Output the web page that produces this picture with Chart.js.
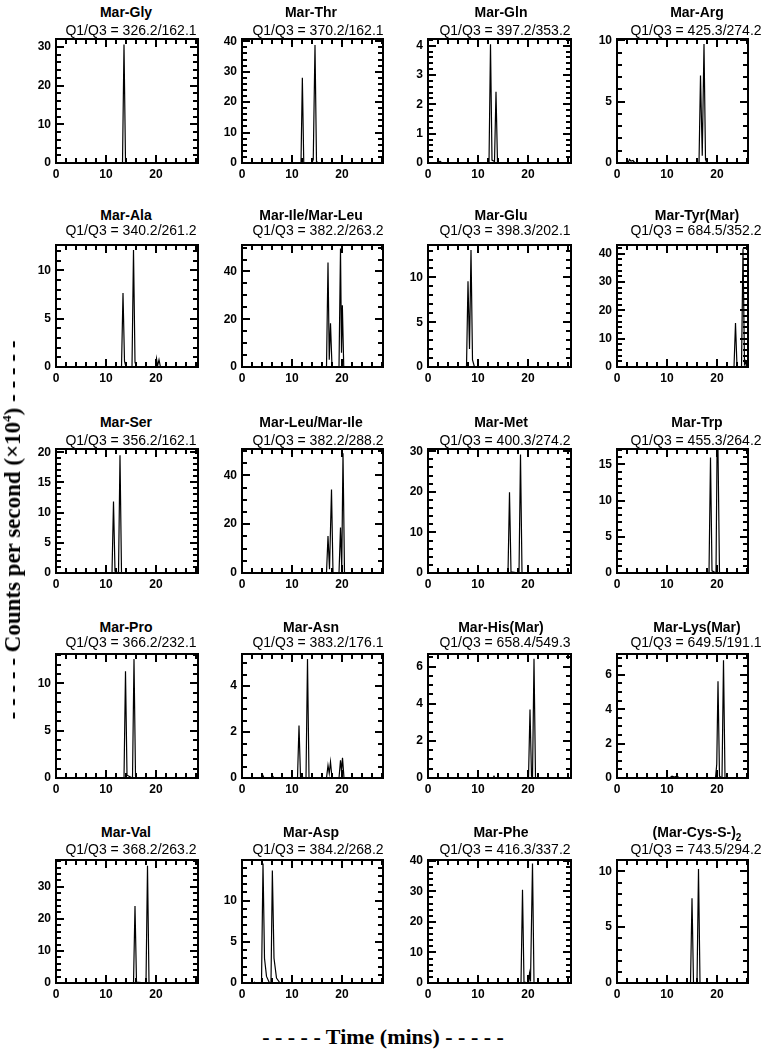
<!DOCTYPE html>
<html><head><meta charset="utf-8">
<script src="https://cdn.jsdelivr.net/npm/chart.js@4.4.0/dist/chart.umd.min.js"></script>
<style>
html,body{margin:0;padding:0;background:#fff;}
body{width:762px;height:1050px;position:relative;overflow:hidden;font-family:"Liberation Sans",Arial,sans-serif;}
.ttl{position:absolute;transform:translate(-50%,-50%);white-space:nowrap;font-weight:bold;font-size:14px;color:#000;line-height:16px;}
.ttl sub{font-size:10px;line-height:0;}
.sub{position:absolute;transform:translate(-50%,-50%);white-space:nowrap;font-size:14px;color:#000;line-height:16px;}
canvas{position:absolute;}
.axt{position:absolute;font-family:"Liberation Serif","Times New Roman",serif;font-weight:bold;font-size:23px;white-space:nowrap;color:#000;line-height:24px;}
.axt sup{font-size:13px;line-height:0;}
</style></head><body>
<script>
// ---- panel labels ----
const panelNames = ['Mar-Gly','Mar-Thr','Mar-Gln','Mar-Arg','Mar-Ala','Mar-Ile/Mar-Leu','Mar-Glu','Mar-Tyr(Mar)','Mar-Ser','Mar-Leu/Mar-Ile','Mar-Met','Mar-Trp','Mar-Pro','Mar-Asn','Mar-His(Mar)','Mar-Lys(Mar)','Mar-Val','Mar-Asp','Mar-Phe','(Mar-Cys-S-)'];
const panelNameSub = ['','','','','','','','','','','','','','','','','','','','2'];
const q1q3 = ['326.2/162.1','370.2/162.1','397.2/353.2','425.3/274.2','340.2/261.2','382.2/263.2','398.3/202.1','684.5/352.2','356.2/162.1','382.2/288.2','400.3/274.2','455.3/264.2','366.2/232.1','383.2/176.1','658.4/549.3','649.5/191.1','368.2/263.2','384.2/268.2','416.3/337.2','743.5/294.2'];

// ---- y axis ranges / ticks ----
const yMax   = [32, 40.7, 4.22, 10.1, 12.6, 51, 13.6, 43, 20.5, 50.7, 30.5, 17.1, 13.1, 5.39, 6.67, 7.2, 38.3, 14.9, 40.2, 11.0];
const yMajor = [10, 10, 1, 5, 5, 20, 5, 10, 5, 20, 10, 5, 5, 2, 2, 2, 10, 5, 10, 5];
const yMinor = [2, 2, 0.2, 1, 1, 5, 1, 2, 1, 5, 2, 1, 1, 0.5, 0.5, 0.5, 2, 1, 2, 1];
const X_MAJOR = 10, X_MINOR = 2;

// ---- chromatogram series: time (mins) and counts per second (x10^4) ----
const glyTime = [0, 13.3, 13.6, 13.9, 14.3, 28.6];
const glyCps  = [0, 0, 30.6, 0.4, 0, 0];
const thrTime = [0, 11.8, 12.07, 12.35, 14.0, 14.25, 14.6, 14.9, 15.2, 28.6];
const thrCps  = [0, 0, 28.0, 0.2, 0, 1.2, 38.8, 0.5, 0, 0];
const glnTime = [0, 2.0, 2.4, 2.8, 12.2, 12.5, 12.8, 13.3, 13.6, 13.9, 28.6];
const glnCps  = [0, 0, 0.06, 0, 0, 4.05, 0.1, 0.05, 2.43, 0, 0];
const argTime = [0, 2.2, 2.5, 2.8, 3.2, 3.6, 16.4, 16.7, 17.05, 17.4, 17.7, 18.0, 28.6];
const argCps  = [0, 0, 0.3, 0.15, 0.2, 0, 0, 7.13, 0.6, 9.7, 0.3, 0, 0];

const alaTime = [0, 13.1, 13.4, 13.7, 14.0, 15.2, 15.5, 15.8, 16.1, 19.9, 20.1, 20.3, 20.6, 20.9, 28.6];
const alaCps  = [0, 0, 7.65, 0.6, 0, 0, 12.1, 0.5, 0, 0, 0.85, 0.1, 0.75, 0, 0];
const ileLeuTime = [0, 16.9, 17.2, 17.45, 17.7, 18.0, 19.4, 19.7, 19.9, 20.07, 20.35, 28.6];
const ileLeuCps  = [0, 0, 43.8, 3, 18.3, 0, 0, 49.6, 6, 25.9, 0, 0];
const gluTime = [0, 7.7, 8.0, 8.3, 8.6, 8.9, 9.3, 28.6];
const gluCps  = [0, 0, 9.56, 2, 13.07, 0.8, 0, 0];
const tyrTime = [0, 23.4, 23.7, 24.0, 24.9, 25.2, 25.5, 25.7, 25.9, 28.6];
const tyrCps  = [0, 0, 15.5, 0, 0, 41.8, 1, 2, 0, 0];

const serTime = [0, 1.9, 2.1, 2.3, 11.2, 11.5, 11.8, 12.5, 12.8, 13.1, 28.6];
const serCps  = [0, 0, 0.15, 0, 0, 11.85, 0.3, 0, 19.5, 0, 0];
const leuIleTime = [0, 16.9, 17.2, 17.5, 17.9, 18.2, 19.4, 19.7, 19.95, 20.2, 20.5, 28.6];
const leuIleCps  = [0, 0, 15.1, 1.5, 34.2, 0, 0, 18.6, 2, 49, 0, 0];
const metTime = [0, 16.0, 16.3, 16.6, 18.2, 18.5, 18.8, 28.6];
const metCps  = [0, 0, 19.9, 0.3, 0, 29.2, 0, 0];
const trpTime = [0, 18.4, 18.7, 19.0, 19.8, 20.0, 20.2, 20.5, 28.6];
const trpCps  = [0, 0, 15.95, 0.3, 0, 16.3, 16.95, 0, 0];

const proTime = [0, 13.6, 13.9, 14.2, 15.3, 15.6, 15.9, 16.2, 28.6];
const proCps  = [0, 0, 11.3, 0.3, 0, 12.6, 0.2, 0, 0];
const asnTime = [0, 4.0, 4.2, 4.4, 6.0, 6.2, 6.4, 11.1, 11.4, 11.7, 12.8, 13.1, 13.4, 16.9, 17.2, 17.45, 17.7, 18.0, 19.4, 19.7, 19.9, 20.1, 20.4, 28.6];
const asnCps  = [0, 0, 0.1, 0, 0, 0.06, 0, 0, 2.28, 0.05, 0, 5.18, 0, 0, 0.55, 0.2, 0.7, 0, 0, 0.77, 0.3, 0.88, 0, 0];
const hisTime = [0, 13.0, 13.2, 13.4, 20.1, 20.4, 20.7, 20.9, 21.2, 21.5, 28.6];
const hisCps  = [0, 0, 0.1, 0, 0, 3.69, 0.1, 0, 6.42, 0, 0];
const lysTime = [0, 10.5, 11.0, 11.5, 12.0, 12.5, 19.7, 19.95, 20.2, 20.5, 21.0, 21.3, 21.6, 28.6];
const lysCps  = [0, 0, 0.1, 0.05, 0.1, 0, 0, 0.8, 5.63, 0.1, 0, 6.85, 0, 0];

const valTime = [0, 15.5, 15.8, 16.1, 18.0, 18.3, 18.6, 28.6];
const valCps  = [0, 0, 24.0, 0.3, 0, 36.6, 0, 0];
const aspTime = [0, 2.3, 2.5, 2.7, 3.9, 4.2, 4.5, 4.9, 5.5, 5.8, 6.07, 6.4, 6.9, 7.6, 28.6];
const aspCps  = [0, 0, 0.1, 0, 0, 14.5, 3.0, 0.8, 0, 0, 13.66, 3.0, 0.6, 0, 0];
const pheTime = [0, 18.6, 18.9, 19.2, 20.1, 20.3, 20.5, 20.9, 21.2, 28.6];
const pheCps  = [0, 0, 30.5, 0.3, 0, 3.1, 0.5, 39.1, 0, 0];
const cysTime = [0, 14.7, 15.0, 15.3, 16.0, 16.3, 16.6, 28.6];
const cysCps  = [0, 0, 7.6, 0, 0, 10.2, 0, 0];

const seriesTime = [glyTime, thrTime, glnTime, argTime, alaTime, ileLeuTime, gluTime, tyrTime, serTime, leuIleTime, metTime, trpTime, proTime, asnTime, hisTime, lysTime, valTime, aspTime, pheTime, cysTime];
const seriesCps  = [glyCps, thrCps, glnCps, argCps, alaCps, ileLeuCps, gluCps, tyrCps, serCps, leuIleCps, metCps, trpCps, proCps, asnCps, hisCps, lysCps, valCps, aspCps, pheCps, cysCps];

// ---- layout (pixels) ----
const colLeft  = [56, 242, 428, 617];
const colWidth = [142, 141, 143, 131];
const rowTop    = [39, 245, 449, 654, 860];
const rowHeight = [124, 122, 124, 124, 123];
const titleX = [126, 311, 501, 697];
const subX   = [131, 318, 505, 696];
const titleY = [12, 215, 422, 626.5, 831.5];
const subY   = [29.5, 229.5, 439.5, 641.5, 849];
const PX_PER_MIN = 5;

function tickList(maxV, step, major) {
  const out = [];
  const n = Math.floor(maxV / step + 1e-6);
  for (let i = 1; i <= n; i++) {
    const v = i * step;
    const r = v / major;
    out.push({v: v, len: Math.abs(r - Math.round(r)) < 1e-6 ? 8 : 5});
  }
  return out;
}

function makeBoxTicks(xTicks, yTicks) {
  return {
    id: 'boxTicks',
    afterDatasetsDraw(chart) {
      const ctx = chart.ctx, a = chart.chartArea;
      const xs = chart.scales.x, ys = chart.scales.y;
      ctx.save();
      ctx.fillStyle = '#000';
      const L = Math.round(a.left), R = Math.round(a.right), T = Math.round(a.top), B = Math.round(a.bottom);
      xTicks.forEach(tk => {
        const px = Math.round(xs.getPixelForValue(tk.v)) - 1;
        ctx.fillRect(px, B - tk.len, 2, tk.len);
        ctx.fillRect(px, T, 2, tk.len);
      });
      yTicks.forEach(tk => {
        const py = Math.round(ys.getPixelForValue(tk.v)) - 1;
        ctx.fillRect(L, py, tk.len, 2);
        ctx.fillRect(R - tk.len, py, tk.len, 2);
      });
      ctx.strokeStyle = '#000';
      ctx.lineWidth = 2;
      ctx.strokeRect(L, T, R - L, B - T);
      ctx.restore();
    }
  };
}

const tickFont = {family: '"Liberation Sans", Arial, sans-serif', size: 12, weight: 'bold'};
const PADL = 40, PADT = 12, PADR = 12, PADB = 24;

for (let p = 0; p < 20; p++) {
  const row = Math.floor(p / 4), col = p % 4;
  const W = colWidth[col], H = rowHeight[row];
  const cv = document.createElement('canvas');
  cv.width = W + PADL + PADR; cv.height = H + PADT + PADB;
  cv.style.left = (colLeft[col] - PADL) + 'px';
  cv.style.top = (rowTop[row] - PADT) + 'px';
  cv.style.width = cv.width + 'px'; cv.style.height = cv.height + 'px';
  document.body.appendChild(cv);

  const t = document.createElement('div');
  t.className = 'ttl';
  t.textContent = panelNames[p];
  if (panelNameSub[p]) { const s = document.createElement('sub'); s.textContent = panelNameSub[p]; t.appendChild(s); }
  t.style.left = titleX[col] + 'px'; t.style.top = titleY[row] + 'px';
  document.body.appendChild(t);
  const s = document.createElement('div');
  s.className = 'sub';
  s.textContent = 'Q1/Q3 = ' + q1q3[p];
  s.style.left = subX[col] + 'px'; s.style.top = subY[row] + 'px';
  document.body.appendChild(s);

  const xMaxVal = W / PX_PER_MIN;
  const xTicks = tickList(xMaxVal, X_MINOR, X_MAJOR);
  const yTicks = tickList(yMax[p], yMinor[p], yMajor[p]);

  const pts = seriesTime[p].map((tt, i) => ({x: tt, y: seriesCps[p][i]}));
  new Chart(cv, {
    type: 'line',
    data: {datasets: [{data: pts, borderColor: '#000', borderWidth: 1.2, pointRadius: 0, tension: 0, fill: false}]},
    plugins: [makeBoxTicks(xTicks, yTicks)],
    options: {
      responsive: false, animation: false, devicePixelRatio: 1,
      layout: {padding: {top: PADT, right: PADR, left: 0, bottom: 0}},
      plugins: {legend: {display: false}, tooltip: {enabled: false}, title: {display: false}},
      scales: {
        x: {type: 'linear', min: 0, max: xMaxVal,
            afterFit(sc) { sc.height = PADB; },
            grid: {display: false, drawTicks: false}, border: {display: false},
            ticks: {stepSize: X_MAJOR, includeBounds: false, padding: 4, font: tickFont, color: '#000', maxRotation: 0, autoSkip: false}},
        y: {type: 'linear', min: 0, max: yMax[p],
            afterFit(sc) { sc.width = PADL; },
            grid: {display: false, drawTicks: false}, border: {display: false},
            ticks: {stepSize: yMajor[p], includeBounds: false, padding: 5, font: tickFont, color: '#000', autoSkip: false}}
      }
    }
  });
}

const yt = document.createElement('div');
yt.className = 'axt';
yt.innerHTML = '- - - - - Counts per second (×10<sup>4</sup>) - - - - -';
yt.style.left = '13px'; yt.style.top = '530px';
yt.style.transform = 'translate(-50%,-50%) rotate(-90deg)';
document.body.appendChild(yt);

const xt = document.createElement('div');
xt.className = 'axt';
xt.style.fontSize = '22px';
xt.textContent = '- - - - - Time (mins) - - - - -';
xt.style.left = '383px'; xt.style.top = '1037px';
xt.style.transform = 'translate(-50%,-50%)';
document.body.appendChild(xt);
</script>
</body></html>
